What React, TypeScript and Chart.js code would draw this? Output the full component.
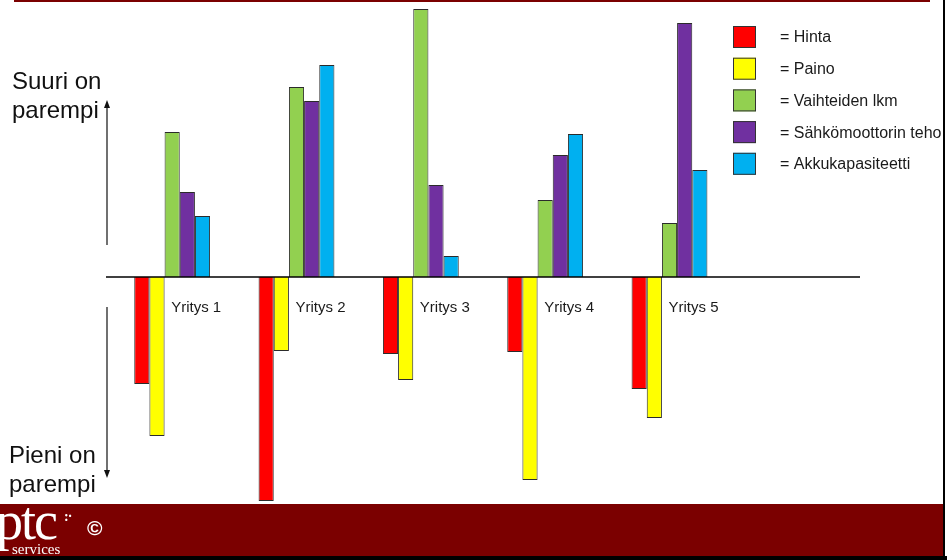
import React, { useEffect, useRef } from "react";
import { Chart, registerables } from "chart.js";
Chart.register(...registerables);

const categories = ["Yritys 1", "Yritys 2", "Yritys 3", "Yritys 4", "Yritys 5", ""];
const seriesNames = ["Hinta", "Paino", "Vaihteiden lkm", "Sähkömoottorin teho", "Akkukapasiteetti"];
const hinta = [-107, -224, -77, -75, -112];
const paino = [-159, -74, -103, -203, -141];
const vaihteidenLkm = [145, 190, 268, 77, 54];
const moottorinTeho = [85, 176, 92, 122, 254];
const akkukapasiteetti = [61, 212, 21, 143, 107];
const seriesColors = ["#FF0000", "#FFFF00", "#92D050", "#7030A0", "#00B0F0"];
const yMin = -230;
const yMax = 270;

const FONT = "'Liberation Sans', Arial, sans-serif";

const overlayPlugin = {
  id: "overlay",
  afterDatasetsDraw(chart: any) {
    const ctx = chart.ctx;
    const { left, right } = chart.chartArea;
    const xs = chart.scales.x;
    const ys = chart.scales.y;
    const zeroY = ys.getPixelForValue(0);
    ctx.save();
    // zero line
    ctx.strokeStyle = "#000";
    ctx.lineWidth = 1.5;
    ctx.beginPath();
    ctx.moveTo(left - 4, zeroY);
    ctx.lineTo(right + 4, zeroY);
    ctx.stroke();
    // category labels
    ctx.fillStyle = "#1a1a1a";
    ctx.font = `15px ${FONT}`;
    ctx.textAlign = "left";
    ctx.textBaseline = "middle";
    categories.forEach((c, i) => {
      if (!c) return;
      ctx.fillText(c, xs.getPixelForValue(i) - 1, zeroY + 31);
    });
    // legend
    const lx = 733;
    const top0 = 26;
    const step = 31.7;
    chart.data.datasets.forEach((ds: any, i: number) => {
      const y = top0 + i * step;
      ctx.fillStyle = ds.backgroundColor;
      ctx.fillRect(lx, y, 23, 22);
      ctx.strokeStyle = "#333";
      ctx.lineWidth = 1;
      ctx.strokeRect(lx + 0.5, y + 0.5, 22, 21);
      ctx.fillStyle = "#1a1a1a";
      ctx.font = `16px ${FONT}`;
      ctx.textBaseline = "middle";
      ctx.fillText("= " + ds.label, 780, y + 12);
    });
    ctx.restore();
  },
};

export default function App() {
  const ref = useRef<HTMLCanvasElement>(null);
  useEffect(() => {
    document.body.style.margin = "0";
    const series = [hinta, paino, vaihteidenLkm, moottorinTeho, akkukapasiteetti];
    const chart = new Chart(ref.current!, {
      type: "bar",
      data: {
        labels: categories,
        datasets: series.map((d, i) => ({
          label: seriesNames[i],
          data: d,
          backgroundColor: seriesColors[i],
          borderColor: "#2b2b2b",
          borderWidth: 1,
          categoryPercentage: 0.61,
          barPercentage: 1,
        })),
      },
      options: {
        responsive: false,
        animation: false,
        devicePixelRatio: 1,
        layout: { padding: { left: 110, right: 91, top: 7, bottom: 53 } },
        plugins: { legend: { display: false }, tooltip: { enabled: false } },
        scales: {
          x: { display: false },
          y: { display: false, min: yMin, max: yMax },
        },
      },
      plugins: [overlayPlugin],
    });
    return () => chart.destroy();
  }, []);

  const textStyle: React.CSSProperties = {
    position: "absolute",
    fontFamily: FONT,
    fontSize: 24,
    lineHeight: "29px",
    color: "#111",
    margin: 0,
  };

  return (
    <div style={{ position: "relative", width: 947, height: 560, background: "#fff", overflow: "hidden" }}>
      <canvas ref={ref} width={947} height={560} style={{ position: "absolute", left: 0, top: 0 }} />
      <div style={{ position: "absolute", left: 14, top: 0, width: 916, height: 2, background: "#7B0000" }} />
      <div style={{ position: "absolute", left: 943, top: 0, width: 2, height: 560, background: "#000" }} />
      <div style={{ ...textStyle, left: 12, top: 66 }}>Suuri on<br />parempi</div>
      <div style={{ ...textStyle, left: 9, top: 440 }}>Pieni on<br />parempi</div>
      <svg width={947} height={560} style={{ position: "absolute", left: 0, top: 0 }}>
        <line x1={107} y1={245} x2={107} y2={106} stroke="#111" strokeWidth={1.2} />
        <polygon points="107,100 104,108 110,108" fill="#111" />
        <line x1={107} y1={307} x2={107} y2={472} stroke="#111" strokeWidth={1.2} />
        <polygon points="107,478 104,470 110,470" fill="#111" />
      </svg>
      <div style={{ position: "absolute", left: 0, top: 504, width: 943, height: 52, background: "#7B0000" }}>
        <div style={{ position: "absolute", left: -4, top: -10, fontFamily: "'Liberation Serif', 'DejaVu Serif', serif", fontSize: 54, color: "#fff", lineHeight: "54px", letterSpacing: -2 }}>ptc</div>
        <div style={{ position: "absolute", left: 64, top: 6, fontFamily: "'Liberation Serif', serif", fontWeight: "bold", fontSize: 14, color: "#fff", lineHeight: "14px", letterSpacing: -1 }}>:·</div>
        <div style={{ position: "absolute", left: 12, top: 38, fontFamily: "'Liberation Serif', serif", fontSize: 15, color: "#fff", lineHeight: "14px" }}>services</div>
        <div style={{ position: "absolute", left: 87, top: 13, fontFamily: FONT, fontWeight: "bold", fontSize: 21, color: "#fff", lineHeight: "22px" }}>©</div>
      </div>
      <div style={{ position: "absolute", left: 0, top: 556, width: 947, height: 4, background: "#000" }} />
    </div>
  );
}
